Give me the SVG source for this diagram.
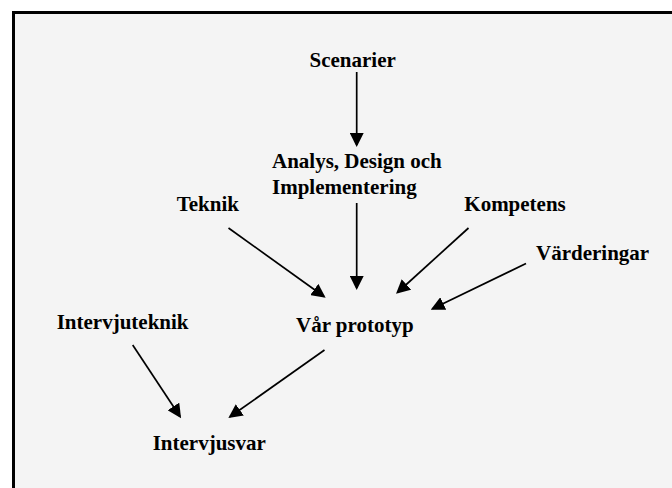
<svg xmlns="http://www.w3.org/2000/svg" width="672" height="488" viewBox="0 0 672 488">
  <defs>
    <marker id="arrow" markerUnits="userSpaceOnUse" markerWidth="14" markerHeight="14" viewBox="0 0 14 14" refX="12" refY="7" orient="auto">
      <path d="M0,0 L14,7 L0,14 z" fill="#000"/>
    </marker>
  </defs>
  <style>
    .lbl { font-family: "Liberation Serif", "Times New Roman", serif; font-weight: bold; font-size: 21px; fill: #000; }
    .edge { stroke: #000; stroke-width: 1.7; fill: none; marker-end: url(#arrow); }
  </style>
  <rect width="672" height="488" fill="#fff"/>
  <rect x="13.5" y="12.5" width="700" height="500" fill="#f4f4f4" stroke="#000" stroke-width="3"/>

  <g id="connectors">
    <line class="edge" x1="356.7" y1="72" x2="356.7" y2="145"/>
    <line class="edge" x1="356.7" y1="203" x2="356.7" y2="288"/>
    <line class="edge" x1="228.5" y1="228" x2="324" y2="296.5"/>
    <line class="edge" x1="468.5" y1="228" x2="397.5" y2="292.5"/>
    <line class="edge" x1="526" y1="263.5" x2="432.5" y2="308.8"/>
    <line class="edge" x1="132.7" y1="345" x2="180" y2="416.5"/>
    <line class="edge" x1="324.5" y1="350" x2="230" y2="416.8"/>
  </g>

  <g id="scenarier"><text class="lbl" x="309.5" y="67">Scenarier</text></g>
  <g id="analys">
    <text class="lbl" x="272" y="168">Analys, Design och</text>
    <text class="lbl" x="272" y="194">Implementering</text>
  </g>
  <g id="teknik"><text class="lbl" x="176.7" y="211">Teknik</text></g>
  <g id="kompetens"><text class="lbl" x="464.3" y="211">Kompetens</text></g>
  <g id="varderingar"><text class="lbl" x="536" y="259.5">Värderingar</text></g>
  <g id="prototyp"><text class="lbl" x="296" y="331.5">Vår prototyp</text></g>
  <g id="intervjuteknik"><text class="lbl" x="56.7" y="328.5">Intervjuteknik</text></g>
  <g id="intervjusvar"><text class="lbl" x="152.7" y="450">Intervjusvar</text></g>
</svg>
